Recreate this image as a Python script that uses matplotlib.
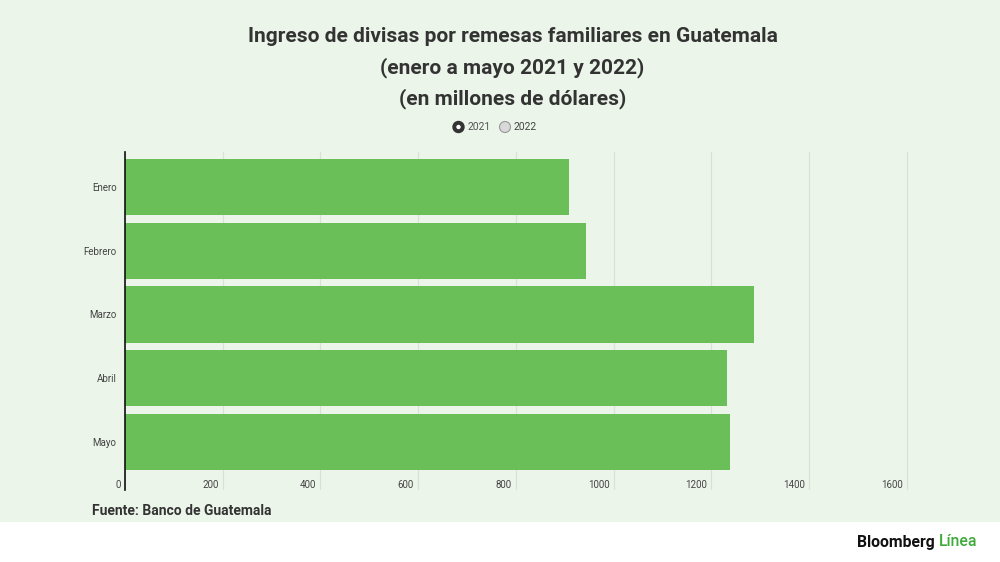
import matplotlib
matplotlib.use("Agg")
import matplotlib.pyplot as plt
from matplotlib.patches import Rectangle, Circle
import matplotlib.transforms as mtransforms

months = ["Enero", "Febrero", "Marzo", "Abril", "Mayo"]
values_2021 = [908, 944, 1287, 1233, 1238]
x_ticks = [0, 200, 400, 600, 800, 1000, 1200, 1400, 1600]
legend_labels = ["2021", "2022"]
title_lines = ["Ingreso de divisas por remesas familiares en Guatemala",
               "(enero a mayo 2021 y 2022)",
               "(en millones de dólares)"]
source = "Fuente: Banco de Guatemala"

BG = "#EBF5E9"
BAR = "#6ABF59"
TXT = "#333333"
FONT = ["Roboto", "DejaVu Sans"]
plt.rcParams["font.family"] = FONT

W, H = 1000, 562
fig = plt.figure(figsize=(10, 5.62), dpi=100)
fig.patch.set_facecolor("white")
fig.add_artist(Rectangle((0, (H - 522) / H), 1, 522 / H, transform=fig.transFigure,
                         facecolor=BG, edgecolor="none", zorder=0))

def fx(px):
    return px / W

def fy(py):
    return 1 - py / H

XMAX = 1610
scale = 0.4885  # px per unit
ax_left, ax_top, ax_bottom = 125, 152, 490
ax_right = ax_left + XMAX * scale
ax = fig.add_axes([fx(ax_left), fy(ax_bottom), fx(ax_right - ax_left), (ax_bottom - ax_top) / H])
ax.set_facecolor("none")

band = 63.75
c0 = 187
ax.set_ylim((ax_bottom - c0) / band, (ax_top - c0) / band)
ax.set_xlim(0, XMAX)

ypos = list(range(len(months)))
ax.barh(ypos, values_2021, height=0.88, color=BAR, edgecolor="none", zorder=2)

for s in ["top", "right", "bottom"]:
    ax.spines[s].set_visible(False)
ax.spines["left"].set_color("#111111")
ax.spines["left"].set_linewidth(1.2)
ax.spines["left"].set_zorder(3)

ax.set_xticks(x_ticks)
ax.tick_params(axis="x", length=0, labelbottom=False)
ax.grid(axis="x", color="#DADFD8", linewidth=0.8, zorder=1)
ax.set_axisbelow(True)

trans = mtransforms.blended_transform_factory(ax.transData, ax.transAxes)
for t in x_ticks:
    ax.text(t - 4 / scale, (ax_bottom - 485) / (ax_bottom - ax_top),
            str(t), transform=trans, ha="right", va="center", fontsize=7, color="#444444")

ax.set_yticks(ypos)
ax.set_yticklabels(months, fontsize=7, color="#444444")
ax.tick_params(axis="y", length=0, pad=6)

for line, py in zip(title_lines, [36, 68, 99]):
    fig.text(0.5125, fy(py), line, ha="center", va="center", fontsize=15,
             fontweight="bold", color=TXT)

lg_y = fy(127)
fig.add_artist(Circle((458.5, H - 127), 5.5, transform=None, facecolor="#333333",
                      edgecolor="#333333", zorder=5))
fig.add_artist(Circle((458.5, H - 127), 2.2, transform=None, facecolor="white",
                      edgecolor="none", zorder=6))
fig.text(fx(468), lg_y, legend_labels[0], ha="left", va="center", fontsize=7.5, color="#555555")
fig.add_artist(Circle((505, H - 127), 5.5, transform=None, facecolor="#D9D9D9",
                      edgecolor="#999999", linewidth=0.8, zorder=5))
fig.text(fx(514), lg_y, legend_labels[1], ha="left", va="center", fontsize=7.5, color="#444444")

fig.text(fx(92), fy(511), source, ha="left", va="center", fontsize=10,
         fontweight="bold", color=TXT)

t1 = fig.text(fx(857), fy(542), "Bloomberg", ha="left", va="center", fontsize=11.3,
              fontweight="bold", color="#111111")
fig.canvas.draw()
bb = t1.get_window_extent()
fig.text((bb.x1 + 4) / W, fy(542), "Línea", ha="left", va="center", fontsize=11.3,
         fontweight="medium", color="#3DAA3A")

fig.savefig("out.png", dpi=100, facecolor=fig.get_facecolor())
